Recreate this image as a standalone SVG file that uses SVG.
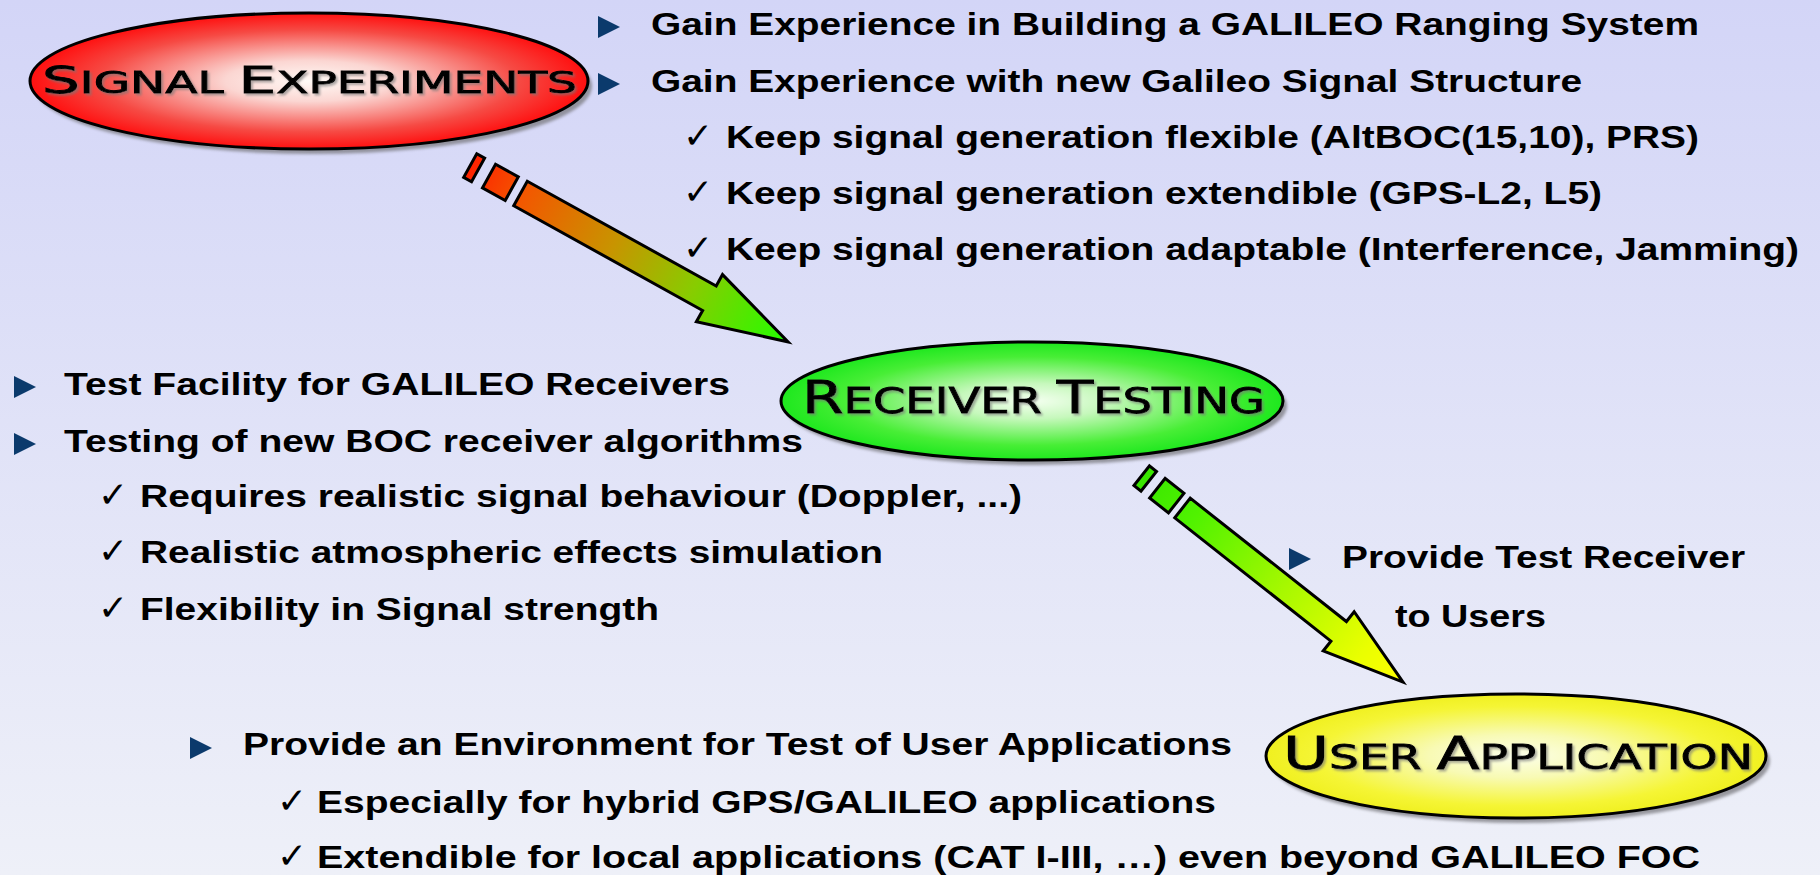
<svg xmlns="http://www.w3.org/2000/svg" width="1820" height="875" viewBox="0 0 1820 875">
<defs>
  <linearGradient id="bg" x1="0" y1="0" x2="0" y2="1">
    <stop offset="0" stop-color="#d3d5f7"/>
    <stop offset="1" stop-color="#eef0f8"/>
  </linearGradient>
  <radialGradient id="gRed" cx="0.5" cy="0.5" r="0.5">
    <stop offset="0" stop-color="#fffaf6"/>
    <stop offset="0.3" stop-color="#fbd6d2"/>
    <stop offset="0.75" stop-color="#f64a44"/>
    <stop offset="1" stop-color="#ff1010"/>
  </radialGradient>
  <radialGradient id="gGreen" cx="0.5" cy="0.5" r="0.5">
    <stop offset="0" stop-color="#f4fff0"/>
    <stop offset="0.3" stop-color="#c6f8bc"/>
    <stop offset="0.75" stop-color="#48ee36"/>
    <stop offset="1" stop-color="#1ee81e"/>
  </radialGradient>
  <radialGradient id="gYellow" cx="0.5" cy="0.5" r="0.5">
    <stop offset="0" stop-color="#fcffea"/>
    <stop offset="0.35" stop-color="#f8fab4"/>
    <stop offset="0.8" stop-color="#f5f535"/>
    <stop offset="1" stop-color="#f0f020"/>
  </radialGradient>
  <linearGradient id="a1" gradientUnits="userSpaceOnUse" x1="-57" y1="0" x2="306" y2="0">
    <stop offset="0" stop-color="#ff2200"/>
    <stop offset="0.17" stop-color="#f25800"/>
    <stop offset="0.45" stop-color="#c89400"/>
    <stop offset="0.7" stop-color="#88cc00"/>
    <stop offset="1" stop-color="#22ff00"/>
  </linearGradient>
  <linearGradient id="a2" gradientUnits="userSpaceOnUse" x1="-52" y1="0" x2="281" y2="0">
    <stop offset="0" stop-color="#38e600"/>
    <stop offset="0.2" stop-color="#50f200"/>
    <stop offset="0.55" stop-color="#a8f800"/>
    <stop offset="0.85" stop-color="#eaff00"/>
    <stop offset="1" stop-color="#ffff00"/>
  </linearGradient>
  <filter id="blur" x="-10%" y="-10%" width="120%" height="120%">
    <feGaussianBlur stdDeviation="1.8"/>
  </filter>
  <filter id="tshadow" x="-5%" y="-20%" width="110%" height="140%">
    <feDropShadow dx="2" dy="2" stdDeviation="1.2" flood-color="#777" flood-opacity="0.6"/>
  </filter>
  <path id="bul" d="M0,-11 L22,0 L0,11 Z"/>
</defs>
<style>
  .t { font-family: "Liberation Sans", Arial, sans-serif; font-weight: bold; font-size: 32px; fill: #000; }
  .ck { font-family: "DejaVu Sans", sans-serif; font-size: 36px; fill: #000; }
  .b { fill: #0b3a6c; }
  .lab { font-family: "DejaVu Sans", "Liberation Sans", sans-serif; fill: #000; stroke: #000; stroke-width: 0.8; filter: url(#tshadow); }
  .ell { stroke: #000; stroke-width: 3; }
  .sh { fill: #7a7a80; opacity: 0.75; filter: url(#blur); }
  .arr { stroke: #000; stroke-width: 3; stroke-linejoin: miter; }
</style>

<rect x="0" y="0" width="1820" height="875" fill="url(#bg)"/>

<g id="connectors">
  <g id="arrow1" transform="translate(520.5,193.5) rotate(29)">
    <rect class="arr" x="-57.5" y="-13.5" width="9" height="27" fill="url(#a1)"/>
    <rect class="arr" x="-36" y="-13.5" width="26" height="27" fill="url(#a1)"/>
    <polygon class="arr" points="0,-14 216,-14 216,-27 306,0 216,27 216,14 0,14" fill="url(#a1)"/>
  </g>
  <g id="arrow2" transform="translate(1182.5,508) rotate(38.3)">
    <rect class="arr" x="-52" y="-12.5" width="9" height="25" fill="url(#a2)"/>
    <rect class="arr" x="-32" y="-12.5" width="24" height="25" fill="url(#a2)"/>
    <polygon class="arr" points="0,-12.5 199,-12.5 199,-25 281,0 199,25 199,12.5 0,12.5" fill="url(#a2)"/>
  </g>
</g>

<g id="node-signal">
  <ellipse class="sh" cx="313" cy="86" rx="279" ry="68"/>
  <ellipse class="ell" cx="309" cy="81" rx="279" ry="68" fill="url(#gRed)"/>
  <text class="lab" x="42" y="93" textLength="535" lengthAdjust="spacingAndGlyphs"><tspan font-size="38">S</tspan><tspan font-size="30">IGNAL </tspan><tspan font-size="38">E</tspan><tspan font-size="30">XPERIMENTS</tspan></text>
</g>

<g id="node-receiver">
  <ellipse class="sh" cx="1036" cy="406" rx="251" ry="59"/>
  <ellipse class="ell" cx="1032" cy="401" rx="251" ry="59" fill="url(#gGreen)"/>
  <text class="lab" x="802" y="413" textLength="463" lengthAdjust="spacingAndGlyphs"><tspan font-size="45">R</tspan><tspan font-size="35">ECEIVER </tspan><tspan font-size="45">T</tspan><tspan font-size="35">ESTING</tspan></text>
</g>

<g id="node-user">
  <ellipse class="sh" cx="1520" cy="761" rx="250" ry="62"/>
  <ellipse class="ell" cx="1516" cy="756" rx="250" ry="62" fill="url(#gYellow)"/>
  <text class="lab" x="1283" y="769" textLength="470" lengthAdjust="spacingAndGlyphs"><tspan font-size="44">U</tspan><tspan font-size="33">SER </tspan><tspan font-size="44">A</tspan><tspan font-size="33">PPLICATION</tspan></text>
</g>

<g id="text-signal">
  <use href="#bul" class="b" x="598" y="27"/>
  <text class="t" x="651" y="35" textLength="1048" lengthAdjust="spacingAndGlyphs">Gain Experience in Building a GALILEO Ranging System</text>
  <use href="#bul" class="b" x="598" y="84"/>
  <text class="t" x="651" y="92" textLength="931" lengthAdjust="spacingAndGlyphs">Gain Experience with new Galileo Signal Structure</text>
  <text class="ck" x="683" y="148">✓</text>
  <text class="t" x="726" y="148" textLength="973" lengthAdjust="spacingAndGlyphs">Keep signal generation flexible (AltBOC(15,10), PRS)</text>
  <text class="ck" x="683" y="204">✓</text>
  <text class="t" x="726" y="204" textLength="876" lengthAdjust="spacingAndGlyphs">Keep signal generation extendible (GPS-L2, L5)</text>
  <text class="ck" x="683" y="260">✓</text>
  <text class="t" x="726" y="260" textLength="1073" lengthAdjust="spacingAndGlyphs">Keep signal generation adaptable (Interference, Jamming)</text>
</g>

<g id="text-receiver">
  <use href="#bul" class="b" x="14" y="387"/>
  <text class="t" x="64" y="395" textLength="666" lengthAdjust="spacingAndGlyphs">Test Facility for GALILEO Receivers</text>
  <use href="#bul" class="b" x="14" y="444"/>
  <text class="t" x="64" y="452" textLength="739" lengthAdjust="spacingAndGlyphs">Testing of new BOC receiver algorithms</text>
  <text class="ck" x="98" y="507">✓</text>
  <text class="t" x="140" y="507" textLength="882" lengthAdjust="spacingAndGlyphs">Requires realistic signal behaviour (Doppler, ...)</text>
  <text class="ck" x="98" y="563">✓</text>
  <text class="t" x="140" y="563" textLength="743" lengthAdjust="spacingAndGlyphs">Realistic atmospheric effects simulation</text>
  <text class="ck" x="98" y="620">✓</text>
  <text class="t" x="140" y="620" textLength="519" lengthAdjust="spacingAndGlyphs">Flexibility in Signal strength</text>
</g>

<g id="text-provide">
  <use href="#bul" class="b" x="1289" y="559"/>
  <text class="t" x="1342" y="568" textLength="403" lengthAdjust="spacingAndGlyphs">Provide Test Receiver</text>
  <text class="t" x="1395" y="627" textLength="151" lengthAdjust="spacingAndGlyphs">to Users</text>
</g>

<g id="text-user">
  <use href="#bul" class="b" x="190" y="748"/>
  <text class="t" x="243" y="755" textLength="989" lengthAdjust="spacingAndGlyphs">Provide an Environment for Test of User Applications</text>
  <text class="ck" x="277" y="813">✓</text>
  <text class="t" x="317" y="813" textLength="899" lengthAdjust="spacingAndGlyphs">Especially for hybrid GPS/GALILEO applications</text>
  <text class="ck" x="277" y="868">✓</text>
  <text class="t" x="317" y="868" textLength="1383" lengthAdjust="spacingAndGlyphs">Extendible for local applications (CAT I-III, …) even beyond GALILEO FOC</text>
</g>
</svg>
